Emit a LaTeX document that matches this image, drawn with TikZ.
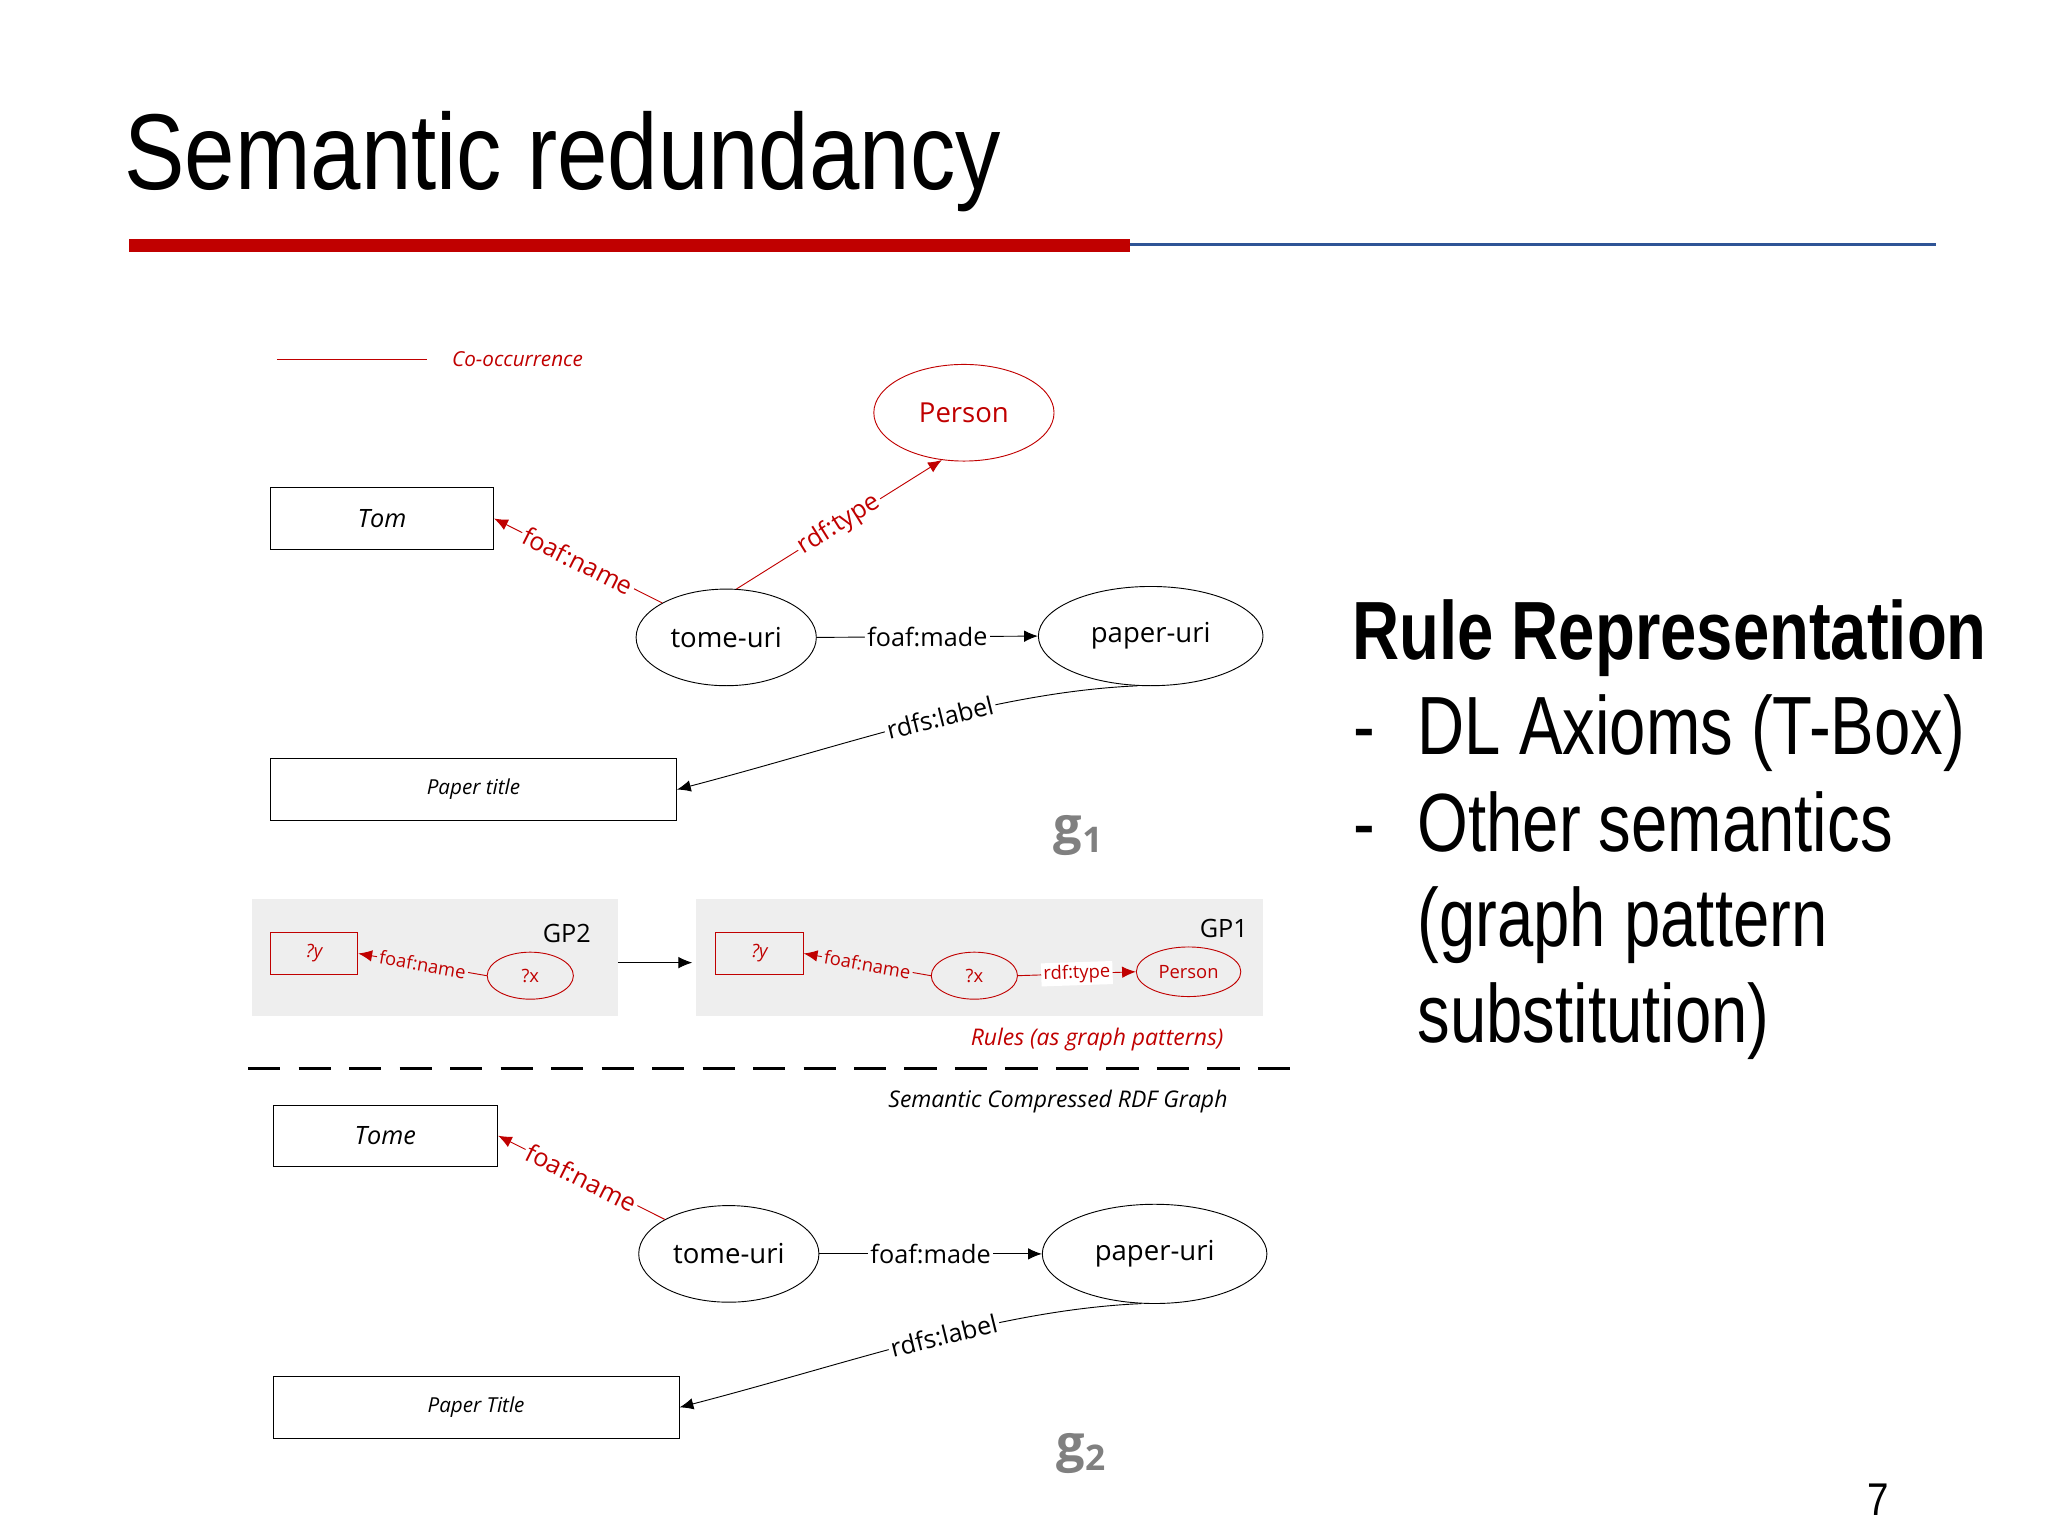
\documentclass[tikz,border=0pt]{standalone}
\usepackage{fontspec}
\setmainfont{Open Sans}
\newfontfamily\titlefont[FakeStretch=0.84]{Liberation Sans}
\newfontfamily\rightfont[FakeStretch=0.79]{Liberation Sans}
\usetikzlibrary{shapes.geometric,arrows.meta}
\definecolor{myred}{RGB}{192,0,0}
\definecolor{myblue}{RGB}{47,84,150}
\definecolor{gpgray}{RGB}{238,238,238}
\tikzset{
 ell/.style={draw,ellipse,inner sep=0pt,font=\fontsize{12}{14}\selectfont},
 rbox/.style={draw,rectangle,inner sep=0pt,font=\fontsize{11}{13}\selectfont\itshape},
 lab/.style={sloped,fill=white,inner sep=1pt,font=\fontsize{11}{13}\selectfont},
 sml/.style={ell,font=\fontsize{8}{10}\selectfont},
 slab/.style={lab,font=\fontsize{8}{10}\selectfont},
 arr/.style={-{Latex[length=6pt,width=5pt]}},
 rt/.style={anchor=base west,inner sep=0pt,font=\rightfont\fontsize{36}{40}\selectfont}
}
\begin{document}
\begin{tikzpicture}[x=0.02cm,y=-0.02cm]
\useasboundingbox (0,0) rectangle (1568,1176);
% title
\node[anchor=base west,inner sep=0pt,font=\titlefont\fontsize{47}{50}\selectfont] (title) at (95,145) {Semantic redundancy};
\fill[myred] (99,183) rectangle (865,193);
\draw[myblue,line width=1.2pt] (865,187) -- (1482,187);
% legend
\draw[myred] (212,275) -- (327,275);
\node[anchor=west,text=myred,font=\fontsize{9}{11}\selectfont\itshape] (leg) at (340,275) {Co-occurrence};
% g1
\node[ell,myred,text=myred,minimum width=2.76cm,minimum height=1.48cm] (person) at (738,316) {Person};
\node[rbox,minimum width=3.42cm,minimum height=0.96cm] (tom) at (292.5,397) {Tom};
\node[ell,minimum width=2.76cm,minimum height=1.48cm] (turi) at (556,488) {tome-uri};
\node[ell,minimum width=3.44cm,minimum height=1.52cm] (puri) at (881,487) {paper-uri};
\node[rbox,minimum width=6.22cm,minimum height=0.94cm,font=\fontsize{9}{11}\selectfont\itshape] (ptitle) at (362.5,604.5) {Paper title};
\node[font=\fontsize{22}{24}\selectfont\bfseries,text=gray] (g1) at (826,640) {g\textsubscript{1}};
\draw[myred,arr] (turi.north west) -- node[lab,text=myred] {foaf:name} (tom.east);
\draw[myred,arr] (turi.78) -- node[lab,text=myred] {rdf:type} (person.245);
\draw[arr] (turi.east) -- node[lab] {foaf:made} (puri.west);
\draw[arr] (puri.255) .. controls (760,530) and (650,570) .. node[lab,pos=0.45] {rdfs:label} (ptitle.east);
% GP2
\fill[gpgray] (193,688) rectangle (473,778);
\node[font=\fontsize{11}{13}\selectfont] (gp2) at (434,715) {GP2};
\node[rbox,myred,text=myred,minimum width=1.34cm,minimum height=0.64cm,font=\fontsize{8}{10}\selectfont\itshape] (y2) at (240.5,730) {?y};
\node[sml,myred,text=myred,minimum width=1.32cm,minimum height=0.72cm] (x2) at (406,747) {?x};
\draw[myred,arr] (x2.west) -- node[slab,text=myred,fill=gpgray] {foaf:name} (y2.east);
% arrow between
\coordinate (a1) at (473,737); \coordinate (a2) at (530,737);
\draw[arr] (a1) -- (a2);
% GP1
\fill[gpgray] (533,688) rectangle (967,778);
\node[font=\fontsize{11}{13}\selectfont] (gp1) at (937,711) {GP1};
\node[rbox,myred,text=myred,minimum width=1.34cm,minimum height=0.64cm,font=\fontsize{8}{10}\selectfont\itshape] (y1) at (581.5,730) {?y};
\node[sml,myred,text=myred,minimum width=1.32cm,minimum height=0.72cm] (x1) at (746,747) {?x};
\node[sml,myred,text=myred,minimum width=1.6cm,minimum height=0.76cm] (p1) at (910,744) {Person};
\draw[myred,arr] (x1.west) -- node[slab,text=myred,fill=gpgray] {foaf:name} (y1.east);
\draw[myred,arr] (x1.east) -- node[slab,text=myred,fill=white] {rdf:type} (p1.west);
\node[text=myred,font=\fontsize{10}{12}\selectfont\itshape] (rules) at (840,796) {Rules (as graph patterns)};
\coordinate (d1) at (190,818); \coordinate (d2) at (990,818);
\draw[line width=1.5pt,dash pattern=on 14pt off 8pt] (d1) -- (d2);
\node[font=\fontsize{10}{12}\selectfont\itshape] (scg) at (810,843) {Semantic Compressed RDF Graph};
% g2
\node[rbox,minimum width=3.44cm,minimum height=0.94cm] (tome) at (295,869.5) {Tome};
\node[ell,minimum width=2.76cm,minimum height=1.48cm] (turi2) at (558,960) {tome-uri};
\node[ell,minimum width=3.44cm,minimum height=1.52cm] (puri2) at (884,960) {paper-uri};
\node[rbox,minimum width=6.22cm,minimum height=0.94cm,font=\fontsize{9}{11}\selectfont\itshape] (ptitle2) at (364.5,1077.5) {Paper Title};
\node[font=\fontsize{22}{24}\selectfont\bfseries,text=gray] (g2) at (828,1113) {g\textsubscript{2}};
\draw[myred,arr] (turi2.north west) -- node[lab,text=myred] {foaf:name} (tome.east);
\draw[arr] (turi2.east) -- node[lab] {foaf:made} (puri2.west);
\draw[arr] (puri2.255) .. controls (763,1003) and (653,1043) .. node[lab,pos=0.45] {rdfs:label} (ptitle2.east);
% right text
\node[rt,font=\rightfont\fontsize{36}{40}\selectfont\bfseries] (rr) at (1035,505) {Rule Representation};
\node[rt] (d1t) at (1036,578) {-};
\node[rt] (l1) at (1085,578) {DL Axioms (T-Box)};
\node[rt] (d2t) at (1036,652) {-};
\node[rt] (l2) at (1085,652) {Other semantics};
\node[rt] (l3) at (1085,725) {(graph pattern};
\node[rt] (l4) at (1085,798) {substitution)};
\node[anchor=base,inner sep=0pt,font=\titlefont\fontsize{20}{22}\selectfont] (pg) at (1438,1160) {7};
\end{tikzpicture}
\end{document}
